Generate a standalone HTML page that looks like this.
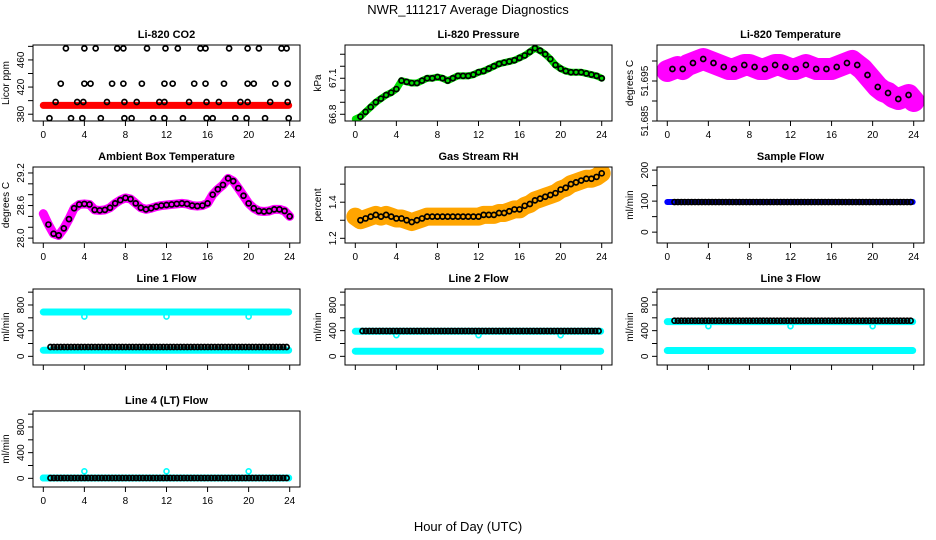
<!DOCTYPE html>
<html><head><meta charset="utf-8"><style>
body{margin:0;background:#fff}
svg{display:block}
text{font-family:"Liberation Sans",Arial,sans-serif;fill:#000}
</style></head><body>
<svg id="chart" width="936" height="540" viewBox="0 0 936 540" xmlns="http://www.w3.org/2000/svg">
<text x="468" y="14" text-anchor="middle" font-size="13">NWR_111217  Average Diagnostics</text>
<text x="468" y="531" text-anchor="middle" font-size="13">Hour of Day (UTC)</text>
</svg>
<script>
const xTicks = [0,4,8,12,16,20,24];
const co2Red = 393;
const co2TopHours = [2.2,4.0,5.1,7.2,7.8,10.1,11.9,13.1,15.3,15.8,18.1,19.9,21.0,23.2,23.7];
const co2MidHours = [1.7,4.0,4.6,6.7,7.8,9.6,11.8,12.6,14.7,15.8,17.6,19.9,20.5,22.6,23.8];
const co2LowHours = [1.2,3.3,3.9,6.2,7.9,9.1,11.3,11.8,14.2,15.9,17.1,19.2,19.9,22.1,23.8];
const co2BotHours = [0.6,2.7,3.8,5.6,7.9,8.6,10.7,11.8,13.6,15.9,16.5,18.7,19.8,21.6,23.9];
const co2Levels = [477,425,398,374];
const pressure = [66.76,66.78,66.82,66.86,66.9,66.93,66.96,66.98,67.01,67.08,67.07,67.06,67.06,67.08,67.1,67.1,67.11,67.1,67.08,67.1,67.12,67.12,67.12,67.13,67.15,67.16,67.18,67.2,67.22,67.23,67.24,67.25,67.27,67.29,67.32,67.35,67.33,67.3,67.26,67.21,67.18,67.16,67.15,67.15,67.15,67.14,67.13,67.12,67.1];
const liTemp = [51.6975,51.698,51.6985,51.698,51.699,51.6995,51.7,51.7005,51.7,51.6995,51.699,51.6985,51.698,51.698,51.6985,51.699,51.699,51.6985,51.698,51.698,51.6985,51.699,51.699,51.6985,51.698,51.698,51.6985,51.699,51.6985,51.698,51.698,51.698,51.698,51.6985,51.699,51.6995,51.7,51.699,51.698,51.6965,51.695,51.6935,51.6925,51.692,51.691,51.6905,51.691,51.6915,51.69];
const ambient = [28.45,28.25,28.08,28.05,28.18,28.35,28.55,28.62,28.63,28.62,28.52,28.51,28.52,28.56,28.64,28.7,28.74,28.72,28.64,28.56,28.53,28.55,28.58,28.6,28.61,28.62,28.63,28.64,28.63,28.6,28.59,28.6,28.64,28.8,28.9,28.98,29.1,29.05,28.92,28.78,28.64,28.55,28.5,28.49,28.5,28.53,28.53,28.5,28.4];
const rh = [1.32,1.3,1.31,1.32,1.33,1.32,1.33,1.32,1.31,1.31,1.3,1.29,1.3,1.31,1.32,1.32,1.32,1.32,1.32,1.32,1.32,1.32,1.32,1.32,1.32,1.33,1.33,1.33,1.34,1.34,1.35,1.36,1.36,1.38,1.39,1.41,1.42,1.43,1.44,1.45,1.47,1.48,1.5,1.51,1.52,1.53,1.53,1.54,1.56];
const sampleFlow = 97;
const line1 = {hi:690, dip:620, lo:95, black:145};
const line2 = {hi:390, dip:330, lo:80, black:395};
const line3 = {hi:540, dip:470, lo:90, black:555};
const line4 = {hi:5, dip:110, lo:5, black:5};
const dipHours = [4,12,20];

const halfHours = []; for(let i=0;i<=48;i++) halfHours.push(i/2);
const blackHours = []; for(let i=0;i<70;i++) blackHours.push(0.7+i/3);

const NS="http://www.w3.org/2000/svg";
const svg=document.getElementById('chart');
function mk(tag,attrs,parent){const e=document.createElementNS(NS,tag);for(const k in attrs)e.setAttribute(k,attrs[k]);(parent||svg).appendChild(e);return e;}

const flowTicks=[0,200,400,600,800,1000], flowLabels=[0,400,800];
const panels=[
 {c:0,r:0,name:'co2',title:'Li-820 CO2',yt:'Licor ppm',ymin:370,ymax:482,ticks:[380,400,420,440,460,480],labels:[380,420,460],fmt:v=>v,xl:true},
 {c:1,r:0,name:'pressure',title:'Li-820 Pressure',yt:'kPa',ymin:66.744,ymax:67.377,ticks:[66.8,66.9,67.0,67.1,67.2,67.3],labels:[66.8,67.1],fmt:v=>v.toFixed(1),xl:true},
 {c:2,r:0,name:'li-temperature',title:'Li-820 Temperature',yt:'degrees C',ymin:51.685,ymax:51.704,ticks:[51.685,51.69,51.695,51.70],labels:[51.685,51.695],fmt:v=>v.toFixed(3),xl:true},
 {c:0,r:1,name:'ambient',title:'Ambient Box Temperature',yt:'degrees C',ymin:27.91,ymax:29.31,ticks:[28.0,28.2,28.4,28.6,28.8,29.0,29.2],labels:[28.0,28.6,29.2],fmt:v=>v.toFixed(1),xl:true},
 {c:1,r:1,name:'rh',title:'Gas Stream RH',yt:'percent',ymin:1.174,ymax:1.595,ticks:[1.2,1.3,1.4,1.5],labels:[1.2,1.4],fmt:v=>v.toFixed(1),xl:true},
 {c:2,r:1,name:'sample-flow',title:'Sample Flow',yt:'ml/min',ymin:-35,ymax:210,ticks:[0,50,100,150,200],labels:[0,100,200],fmt:v=>v,xl:true},
 {c:0,r:2,name:'line1',title:'Line 1 Flow',yt:'ml/min',ymin:-135,ymax:1049,ticks:flowTicks,labels:flowLabels,fmt:v=>v,xl:false,flow:line1},
 {c:1,r:2,name:'line2',title:'Line 2 Flow',yt:'ml/min',ymin:-135,ymax:1049,ticks:flowTicks,labels:flowLabels,fmt:v=>v,xl:false,flow:line2},
 {c:2,r:2,name:'line3',title:'Line 3 Flow',yt:'ml/min',ymin:-135,ymax:1049,ticks:flowTicks,labels:flowLabels,fmt:v=>v,xl:false,flow:line3},
 {c:0,r:3,name:'line4',title:'Line 4 (LT) Flow',yt:'ml/min',ymin:-135,ymax:1049,ticks:flowTicks,labels:flowLabels,fmt:v=>v,xl:true,flow:line4}
];

panels.forEach((p,idx)=>{
 const L=33+312*p.c, T=45+122*p.r, W=267, H=76;
 const x=h=>L+10.3+h*(W-20.6)/24;
 const y=v=>T+H-(v-p.ymin)/(p.ymax-p.ymin)*H;
 const g=mk('g',{});
 
 
 const cp=mk('clipPath',{id:'cp'+idx},g); mk('rect',{x:L,y:T,width:W,height:H},cp);
 const plot=mk('g',{'clip-path':'url(#cp'+idx+')'},g);
 
 
 const circ=(h,v,col,sw)=>{const e=mk('circle',{cx:x(h),cy:y(v),r:2.5,fill:'none',stroke:col||'#000','stroke-width':sw||1.7},plot);
   
   return e;};
 const band=(arr,col,w)=>{const e=mk('polyline',{points:arr.map((v,i)=>x(halfHours[i])+','+y(v)).join(' '),fill:'none',stroke:col,'stroke-width':w,'stroke-linejoin':'round','stroke-linecap':'round'},plot);
   
   return e;};
 const hline=(v,col,w)=>{const e=mk('line',{x1:x(0),x2:x(23.9),y1:y(v),y2:y(v),stroke:col,'stroke-width':w,'stroke-linecap':'round'},plot);
   
   };
 if(p.name==='co2'){
   hline(co2Red,'#ff0000',7);
   [co2TopHours,co2MidHours,co2LowHours,co2BotHours].forEach((hs,k)=>hs.forEach(h=>circ(h,co2Levels[k])));
 } else if(p.name==='pressure'){
   band(pressure,'#00e000',7); pressure.forEach((v,i)=>{if(i>0)circ(halfHours[i],v);});
 } else if(p.name==='li-temperature'){
   band(liTemp,'#ff00ff',22); liTemp.forEach((v,i)=>{if(i%2===1)circ(halfHours[i],v);});
 } else if(p.name==='ambient'){
   band(ambient,'#ff00ff',9); ambient.forEach((v,i)=>{if(i>0)circ(halfHours[i],v);});
 } else if(p.name==='rh'){
   band(rh,'#ffa500',18); rh.forEach((v,i)=>{if(i>0)circ(halfHours[i],v);});
 } else if(p.name==='sample-flow'){
   hline(sampleFlow,'#0000ff',6); blackHours.forEach(h=>circ(h,sampleFlow));
 } else {
   const f=p.flow;
   hline(f.hi,'#00ffff',7); hline(f.lo,'#00ffff',7);
   dipHours.forEach(h=>circ(h,f.dip,'#00ffff',1.6));
   blackHours.forEach(h=>circ(h,f.black));
 }
 const box=mk('rect',{x:L,y:T,width:W,height:H,fill:'none',stroke:'#000','stroke-width':1},g);
 
 
 const t=mk('text',{x:L+W/2,y:T-7,'text-anchor':'middle','font-size':11,'font-weight':'bold'},g); t.textContent=p.title;
 
 
 const yt=mk('text',{x:0,y:0,transform:`translate(${L-24},${T+H/2}) rotate(-90)`,'text-anchor':'middle','font-size':10},g); yt.textContent=p.yt;
 
 
 xTicks.forEach(h=>{
   mk('line',{x1:x(h),x2:x(h),y1:T+H,y2:T+H+5,stroke:'#000'},g);
   if(p.xl){const tl=mk('text',{x:x(h),y:T+H+17,'text-anchor':'middle','font-size':10},g); tl.textContent=h;
     
     }
 });
 p.ticks.forEach(v=>{mk('line',{x1:L-5,x2:L,y1:y(v),y2:y(v),stroke:'#000'},g);});
 p.labels.forEach(v=>{const tl=mk('text',{x:0,y:0,transform:`translate(${L-9},${y(v)}) rotate(-90)`,'text-anchor':'middle','font-size':10},g); tl.textContent=p.fmt(v);
   
   });
});
</script>
</body></html>
